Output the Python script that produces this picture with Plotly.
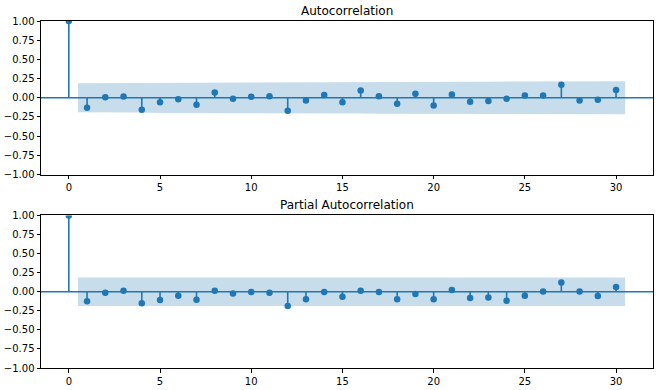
import plotly.graph_objects as go
from plotly.subplots import make_subplots

lags = list(range(0, 31))
acf_values = [1.0, -0.13, 0.005, 0.017, -0.156, -0.06, -0.02, -0.09, 0.07, -0.013, 0.013,
              0.02, -0.17, -0.035, 0.035, -0.06, 0.095, 0.02, -0.078, 0.052, -0.10,
              0.043, -0.052, -0.043, -0.013, 0.03, 0.03, 0.169, -0.035, -0.026, 0.10]
pacf_values = [1.0, -0.126, -0.013, 0.013, -0.152, -0.108, -0.052, -0.104, 0.013, -0.022, -0.004,
               -0.013, -0.186, -0.10, -0.004, -0.065, 0.013, -0.004, -0.10, -0.03, -0.10,
               0.022, -0.082, -0.074, -0.117, -0.052, 0.004, 0.121, 0.004, -0.056, 0.061]
# confidence band half-widths for lags 1..30
acf_band = [0.190, 0.192, 0.192, 0.192, 0.197, 0.198, 0.198, 0.199, 0.200, 0.200,
            0.200, 0.200, 0.205, 0.205, 0.206, 0.206, 0.207, 0.207, 0.208, 0.208,
            0.210, 0.210, 0.210, 0.211, 0.211, 0.211, 0.211, 0.216, 0.216, 0.216]
pacf_band = [0.188] * 30
titles = ["Autocorrelation", "Partial Autocorrelation"]
y_ticks = [-1.0, -0.75, -0.5, -0.25, 0.0, 0.25, 0.5, 0.75, 1.0]
x_ticks = [0, 5, 10, 15, 20, 25, 30]

C = "#1f77b4"
fig = make_subplots(rows=2, cols=1, vertical_spacing=0.118)

def add_panel(vals, band, row):
    bx = [float(l) for l in lags[1:]]
    bx[0] -= 0.5
    bx[-1] += 0.5
    poly_x = bx + bx[::-1]
    poly_y = band + [-b for b in band[::-1]]
    fig.add_trace(go.Scatter(x=poly_x, y=poly_y, fill="toself", mode="lines",
                             line=dict(width=0), fillcolor="rgba(31,119,180,0.25)",
                             hoverinfo="skip", showlegend=False), row=row, col=1)
    sx, sy = [], []
    for l, v in zip(lags, vals):
        sx += [l, l, None]
        sy += [0, v, None]
    fig.add_trace(go.Scatter(x=sx, y=sy, mode="lines", line=dict(color=C, width=1.6),
                             showlegend=False, hoverinfo="skip"), row=row, col=1)
    fig.add_trace(go.Scatter(x=lags, y=vals, mode="markers",
                             marker=dict(color=C, size=6.5), showlegend=False),
                  row=row, col=1)

add_panel(acf_values, acf_band, 1)
add_panel(pacf_values, pacf_band, 2)

tick_text = [("\u2212" if t < 0 else "") + f"{abs(t):.2f}" for t in y_ticks]
axis_common = dict(showgrid=False, zeroline=False, showline=True, linecolor="black",
                   linewidth=1, mirror=True, ticks="outside", ticklen=3.5, tickwidth=0.8,
                   tickcolor="black", automargin=False,
                   tickfont=dict(family="DejaVu Sans", size=10, color="black"))
for r in (1, 2):
    fig.update_xaxes(range=[-1.525, 32.025], tickvals=x_ticks, row=r, col=1, **axis_common)
    fig.update_yaxes(range=[-1, 1], tickvals=y_ticks, ticktext=tick_text, row=r, col=1,
                     **axis_common)

fig.update_layout(
    template="none",
    width=660, height=390, plot_bgcolor="white", paper_bgcolor="white",
    margin=dict(l=41, r=7, t=21, b=22, pad=0),
    yaxis=dict(domain=[0.5576, 1.0]),
    yaxis2=dict(domain=[0.0, 0.4395]),
)

# zero lines across full axis width
for xr, yr in (("x domain", "y"), ("x2 domain", "y2")):
    fig.add_shape(type="line", xref=xr, yref=yr, x0=0, x1=1, y0=0, y1=0,
                  line=dict(color=C, width=1.4), layer="above")

fig.add_annotation(text=titles[0], xref="x domain", yref="y domain", x=0.5, y=1.0,
                   yshift=1, xanchor="center", yanchor="bottom", showarrow=False,
                   font=dict(family="DejaVu Sans", size=12, color="black"))
fig.add_annotation(text=titles[1], xref="x2 domain", yref="y2 domain", x=0.5, y=1.0,
                   yshift=1, xanchor="center", yanchor="bottom", showarrow=False,
                   font=dict(family="DejaVu Sans", size=12, color="black"))

fig.write_html("out.html", config={"displayModeBar": False},
               post_script="document.body.style.margin='0';document.body.style.overflow='hidden';")
